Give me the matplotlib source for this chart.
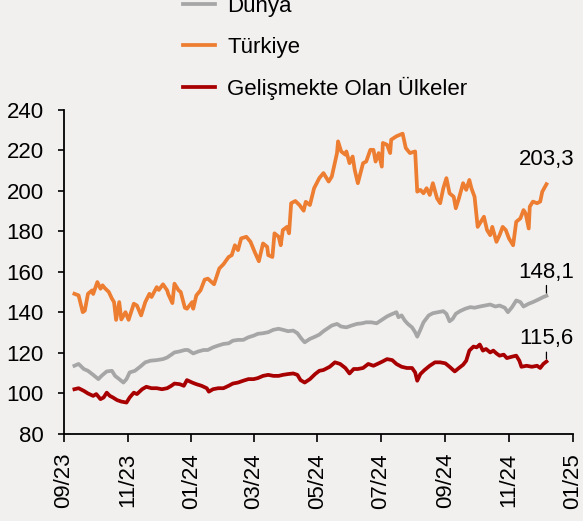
import matplotlib
import pandas as pd

matplotlib.use("Agg")
import matplotlib.dates as mdates
import matplotlib.pyplot as plt

# Türkiye
tr_dates = [
    "2023-09-11", "2023-09-15", "2023-09-19", "2023-09-21", "2023-09-24", "2023-09-28", "2023-09-29",
    "2023-10-03", "2023-10-06", "2023-10-08", "2023-10-10", "2023-10-14", "2023-10-17", "2023-10-19",
    "2023-10-21", "2023-10-24", "2023-10-26", "2023-10-30",
    "2023-11-02", "2023-11-07", "2023-11-10", "2023-11-14", "2023-11-18", "2023-11-22", "2023-11-24", "2023-11-29",
    "2023-12-01", "2023-12-05", "2023-12-09", "2023-12-10", "2023-12-14", "2023-12-16", "2023-12-20",
    "2023-12-22", "2023-12-26", "2023-12-28",
    "2024-01-02", "2024-01-03", "2024-01-06", "2024-01-10", "2024-01-14", "2024-01-17", "2024-01-23", "2024-01-28",
    "2024-02-01", "2024-02-06", "2024-02-09", "2024-02-12", "2024-02-15", "2024-02-18", "2024-02-23", "2024-02-27",
    "2024-03-02", "2024-03-06", "2024-03-10", "2024-03-14", "2024-03-15", "2024-03-19", "2024-03-21",
    "2024-03-25", "2024-03-27", "2024-03-29",
    "2024-04-02", "2024-04-04", "2024-04-06", "2024-04-10", "2024-04-14", "2024-04-18", "2024-04-20",
    "2024-04-24", "2024-04-28",
    "2024-05-03", "2024-05-07", "2024-05-12", "2024-05-15", "2024-05-20", "2024-05-21", "2024-05-24",
    "2024-05-28", "2024-05-29",
    "2024-06-01", "2024-06-04", "2024-06-06", "2024-06-09", "2024-06-14", "2024-06-17", "2024-06-21",
    "2024-06-24", "2024-06-26", "2024-06-29",
    "2024-07-02", "2024-07-03", "2024-07-07", "2024-07-10", "2024-07-11", "2024-07-16", "2024-07-22",
    "2024-07-25", "2024-07-29",
    "2024-08-03", "2024-08-05", "2024-08-08", "2024-08-11", "2024-08-14", "2024-08-17", "2024-08-20",
    "2024-08-24", "2024-08-27", "2024-08-30",
    "2024-09-02", "2024-09-05", "2024-09-09", "2024-09-11", "2024-09-14", "2024-09-18", "2024-09-21",
    "2024-09-24", "2024-09-26", "2024-09-29",
    "2024-10-02", "2024-10-06", "2024-10-08", "2024-10-11", "2024-10-14", "2024-10-16", "2024-10-20",
    "2024-10-23", "2024-10-26", "2024-10-29",
    "2024-11-01", "2024-11-05", "2024-11-08", "2024-11-12", "2024-11-15", "2024-11-17", "2024-11-20",
    "2024-11-21", "2024-11-24", "2024-11-28",
    "2024-12-01", "2024-12-03", "2024-12-07",
]
tr_vals = [
    149.1, 148.3, 140.0, 140.8, 149.1, 150.8, 149.0,
    154.9, 151.6, 153.3, 152.0, 150.0, 146.7, 145.0, 136.2, 145.0, 136.4, 140.0,
    136.2, 144.2, 143.3, 138.4, 145.0, 149.1, 147.5, 152.4,
    151.0, 153.8, 150.8, 149.0, 144.5, 154.1, 150.8, 150.0, 142.2, 141.7,
    145.0, 141.7, 148.3, 150.8, 156.1, 156.6, 153.8, 161.6,
    163.7, 167.3, 168.2, 173.1, 170.7, 176.5, 177.3, 174.8,
    169.8, 165.2, 174.0, 172.3, 168.2, 167.3, 179.0, 177.3, 173.1, 180.6,
    182.2, 179.0, 193.9, 195.0, 193.0, 190.2, 194.6, 193.0, 201.3,
    206.3, 208.8, 204.6, 207.1, 218.7, 224.5, 219.5, 217.9, 219.5,
    213.7, 217.0, 210.4, 203.8, 213.7, 214.5, 220.3, 220.3, 214.5, 218.7,
    212.0, 223.7, 222.8, 218.7, 225.3, 227.0, 228.3, 221.2, 218.7,
    219.5, 199.6, 200.5, 198.8, 201.3, 198.0, 203.8, 196.3, 193.9, 201.3,
    206.3, 198.8, 197.1, 191.4, 196.3, 203.8, 200.5, 205.4, 201.3, 197.1,
    182.2, 185.6, 187.2, 180.6, 178.1, 182.2, 174.8, 178.1, 182.2, 180.6,
    176.5, 173.1, 184.7, 186.4, 190.5, 188.9, 181.4, 192.2, 194.7, 193.9,
    194.7, 199.6, 203.3,
]

# Dünya
world_dates = [
    "2023-09-11", "2023-09-15", "2023-09-20", "2023-09-24", "2023-09-29",
    "2023-10-04", "2023-10-07", "2023-10-12", "2023-10-17", "2023-10-20", "2023-10-24", "2023-10-28", "2023-10-31",
    "2023-11-03", "2023-11-08", "2023-11-13", "2023-11-18", "2023-11-23", "2023-11-29",
    "2023-12-05", "2023-12-09", "2023-12-13", "2023-12-16", "2023-12-21", "2023-12-26", "2023-12-29",
    "2024-01-03", "2024-01-08", "2024-01-13", "2024-01-17", "2024-01-22", "2024-01-27",
    "2024-02-01", "2024-02-06", "2024-02-10", "2024-02-15", "2024-02-20", "2024-02-25",
    "2024-03-01", "2024-03-05", "2024-03-10", "2024-03-15", "2024-03-20", "2024-03-25", "2024-03-29",
    "2024-04-03", "2024-04-08", "2024-04-12", "2024-04-16", "2024-04-19", "2024-04-24", "2024-04-29",
    "2024-05-03", "2024-05-07", "2024-05-15", "2024-05-20", "2024-05-24", "2024-05-29",
    "2024-06-03", "2024-06-08", "2024-06-13", "2024-06-17", "2024-06-22", "2024-06-27",
    "2024-07-02", "2024-07-07", "2024-07-11", "2024-07-16", "2024-07-18", "2024-07-21", "2024-07-24",
    "2024-07-27", "2024-07-31",
    "2024-08-03", "2024-08-05", "2024-08-08", "2024-08-11", "2024-08-16", "2024-08-20", "2024-08-25", "2024-08-30",
    "2024-09-02", "2024-09-05", "2024-09-08", "2024-09-11", "2024-09-15", "2024-09-20", "2024-09-25", "2024-09-29",
    "2024-10-04", "2024-10-09", "2024-10-14", "2024-10-19", "2024-10-23", "2024-10-28", "2024-10-31",
    "2024-11-04", "2024-11-08", "2024-11-12", "2024-11-15", "2024-11-20", "2024-11-24", "2024-11-29",
    "2024-12-04", "2024-12-07",
]
world_vals = [
    113.5, 114.4, 111.9, 111.0, 109.0,
    106.9, 108.5, 110.7, 111.0, 108.5, 106.9, 105.2, 106.9,
    110.2, 111.0, 113.0, 115.2, 116.0, 116.3,
    116.8, 117.6, 119.0, 120.1, 120.6, 121.3, 121.3,
    119.6, 120.6, 121.3, 121.3, 122.6, 123.5,
    124.3, 124.6, 125.9, 126.3, 126.3, 127.6,
    128.4, 129.3, 129.6, 130.1, 131.3, 131.8, 131.3,
    130.6, 130.9, 129.6, 126.8, 125.1, 126.8, 127.9,
    128.9, 130.6, 133.4, 134.2, 132.9, 132.5,
    133.4, 134.2, 134.5, 135.0, 135.0, 134.5,
    136.2, 137.9, 138.9, 140.0, 137.5, 138.4, 135.9, 134.2, 132.5,
    130.1, 127.9, 131.3, 135.0, 138.4, 139.5, 140.0, 140.5,
    139.2, 135.5, 136.7, 139.2, 140.5, 141.7, 142.5, 142.2,
    142.8, 143.3, 143.8, 142.8, 143.3, 142.2, 140.0,
    142.5, 145.8, 145.0, 142.8, 144.2, 145.0, 146.2,
    147.5, 148.1,
]

# Gelişmekte Olan Ülkeler
em_dates = [
    "2023-09-11", "2023-09-15", "2023-09-20", "2023-09-24", "2023-09-29",
    "2023-10-02", "2023-10-06", "2023-10-09", "2023-10-12", "2023-10-15", "2023-10-18", "2023-10-22",
    "2023-10-26", "2023-10-31",
    "2023-11-03", "2023-11-07", "2023-11-10", "2023-11-15", "2023-11-19", "2023-11-24", "2023-11-29",
    "2023-12-04", "2023-12-09", "2023-12-13", "2023-12-16", "2023-12-21", "2023-12-25", "2023-12-28",
    "2024-01-02", "2024-01-06", "2024-01-11", "2024-01-16", "2024-01-18", "2024-01-22", "2024-01-27",
    "2024-02-01", "2024-02-06", "2024-02-10", "2024-02-15", "2024-02-20", "2024-02-25",
    "2024-03-01", "2024-03-05", "2024-03-10", "2024-03-15", "2024-03-20", "2024-03-25", "2024-03-29",
    "2024-04-03", "2024-04-08", "2024-04-12", "2024-04-15", "2024-04-19", "2024-04-24", "2024-04-29",
    "2024-05-03", "2024-05-07", "2024-05-13", "2024-05-18", "2024-05-23", "2024-05-28",
    "2024-06-01", "2024-06-05", "2024-06-09", "2024-06-14", "2024-06-19", "2024-06-24", "2024-06-29",
    "2024-07-03", "2024-07-07", "2024-07-12", "2024-07-16", "2024-07-21", "2024-07-26", "2024-07-31",
    "2024-08-03", "2024-08-05", "2024-08-08", "2024-08-12", "2024-08-17", "2024-08-22", "2024-08-27",
    "2024-09-01", "2024-09-05", "2024-09-10", "2024-09-14", "2024-09-18", "2024-09-21", "2024-09-24", "2024-09-28",
    "2024-10-01", "2024-10-04", "2024-10-07", "2024-10-10", "2024-10-14", "2024-10-17", "2024-10-20",
    "2024-10-23", "2024-10-27", "2024-10-30",
    "2024-11-04", "2024-11-08", "2024-11-11", "2024-11-13", "2024-11-18", "2024-11-23", "2024-11-28",
    "2024-12-01", "2024-12-04", "2024-12-07",
]
em_vals = [
    101.9, 102.4, 101.1, 99.8, 98.6,
    99.5, 97.0, 97.8, 100.2, 98.6, 97.8, 96.5, 95.8, 95.3,
    97.8, 100.2, 99.5, 101.9, 103.1, 102.4, 102.4,
    101.9, 102.4, 103.6, 104.7, 104.4, 103.6, 106.4,
    105.2, 104.4, 103.6, 102.4, 100.7, 101.9, 102.4,
    102.4, 103.6, 104.7, 105.2, 106.1, 106.9,
    106.9, 107.4, 108.5, 109.0, 108.5, 108.5, 109.0,
    109.4, 109.7, 109.0, 106.4, 105.2, 106.9, 109.4,
    111.0, 111.4, 113.0, 115.2, 114.4, 112.4,
    109.7, 111.9, 111.9, 112.4, 114.4, 113.5, 114.7,
    115.7, 116.8, 116.3, 114.4, 113.0, 112.4, 112.4,
    110.2, 106.1, 109.4, 111.4, 113.5, 115.2, 115.2,
    114.7, 113.0, 110.7, 112.4, 114.0, 116.0, 121.0, 123.0,
    122.6, 124.0, 121.0, 121.8, 120.1, 121.0, 119.6, 118.5, 119.0, 117.3,
    118.0, 118.5, 116.0, 113.0, 113.5, 113.0, 113.5,
    112.4, 114.4, 115.6,
]

labels = ["Dünya", "Türkiye", "Gelişmekte Olan Ülkeler"]
colors = ["#A6A6A6", "#ED7D31", "#A80000"]
y_ticks = [80, 100, 120, 140, 160, 180, 200, 220, 240]

BG = "#F2F0EF"
FS = 16

plt.rcParams["font.family"] = ["Liberation Sans", "DejaVu Sans"]

fig = plt.figure(figsize=(5.83, 5.21), dpi=100, facecolor=BG)
ax = fig.add_axes([64 / 583, 1 - 433.5 / 521, (572.5 - 64) / 583, (433.5 - 110) / 521])
ax.set_facecolor(BG)

series = [
    (world_dates, world_vals),
    (tr_dates, tr_vals),
    (em_dates, em_vals),
]
lines = []
for (dates, vals), label, color in zip(series, labels, colors):
    (ln,) = ax.plot(pd.to_datetime(dates), vals, color=color, lw=2.7, label=label,
                    solid_joinstyle="round")
    lines.append(ln)

ax.set_xlim(pd.Timestamp("2023-09-01"), pd.Timestamp("2025-01-01"))
ax.set_ylim(80, 240)
ax.set_yticks(y_ticks)
ax.xaxis.set_major_locator(mdates.MonthLocator(bymonth=[1, 3, 5, 7, 9, 11]))
ax.xaxis.set_major_formatter(mdates.DateFormatter("%m/%y"))

for side in ["top", "right"]:
    ax.spines[side].set_visible(False)
for side in ["left", "bottom"]:
    ax.spines[side].set_linewidth(1.3)

ax.tick_params(axis="y", direction="out", length=4.5, width=1.2, pad=10, labelsize=FS)
ax.tick_params(axis="x", direction="out", length=6, width=1.2, pad=8, labelsize=FS,
               labelrotation=90)

# end-of-series value labels
end_labels = ["148,1", "203,3", "115,6"]
offsets = [17, 18, 16.3]
with_leader = [True, False, True]
for (dates, vals), txt, off, lead in zip(series, end_labels, offsets, with_leader):
    arrow = dict(arrowstyle="-", color="black", lw=0.9, shrinkA=0, shrinkB=2) if lead else None
    ax.annotate(txt, xy=(pd.Timestamp(dates[-1]), vals[-1]), xytext=(0, off),
                textcoords="offset points", ha="center", va="center", fontsize=FS,
                arrowprops=arrow)

fig.legend(handles=lines, labels=labels, loc="lower left",
           bbox_to_anchor=(183 / 583, 1 - 100 / 521), frameon=False, fontsize=FS,
           handlelength=1.45, handletextpad=0.55, labelspacing=0.87,
           borderpad=0, borderaxespad=0)

fig.savefig("out.png", dpi=100, facecolor=BG)
